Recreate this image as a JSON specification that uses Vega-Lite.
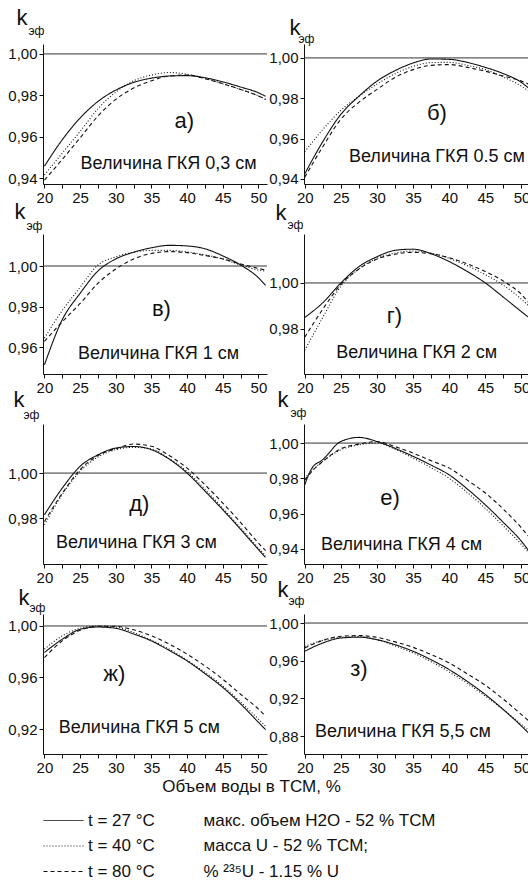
{
"$schema": "https://vega.github.io/schema/vega-lite/v6.json",
"padding": {"left": 7, "top": 6, "right": 0, "bottom": 0},
"config": {
  "font": "Liberation Sans",
  "view": {"stroke": null},
  "axis": {"grid": false, "domainColor": "#111", "tickColor": "#111", "tickSize": 4, "labelFontSize": 15, "labelColor": "#111", "labelPadding": 2, "labelFlush": false, "labelOverlap": false, "titleFont": "Liberation Sans", "titleColor": "#111", "titleFontWeight": "normal"},
  "axisTop": {"domain": false, "ticks": false, "labels": false, "titleFontSize": 22, "titleAlign": "left", "titleBaseline": "alphabetic", "titleAnchor": "start"},
  "text": {"color": "#111"}
},
"datasets": {"d": [
{"p":"а","x":20,"t27":0.9457,"t40":0.9415,"t80":0.939},
{"p":"а","x":22.5,"t27":0.9585,"t40":0.952,"t80":0.949},
{"p":"а","x":25,"t27":0.969,"t40":0.9625,"t80":0.9594},
{"p":"а","x":27.5,"t27":0.977,"t40":0.9735,"t80":0.970},
{"p":"а","x":30,"t27":0.9825,"t40":0.9815,"t80":0.978},
{"p":"а","x":32.5,"t27":0.9862,"t40":0.987,"t80":0.9835},
{"p":"а","x":35,"t27":0.9883,"t40":0.9898,"t80":0.987},
{"p":"а","x":37.5,"t27":0.9893,"t40":0.991,"t80":0.9893},
{"p":"а","x":40,"t27":0.9895,"t40":0.9902,"t80":0.9898},
{"p":"а","x":42.5,"t27":0.9885,"t40":0.9882,"t80":0.988},
{"p":"а","x":45,"t27":0.9865,"t40":0.9856,"t80":0.9856},
{"p":"а","x":47.5,"t27":0.984,"t40":0.9828,"t80":0.9828},
{"p":"а","x":50,"t27":0.9812,"t40":0.9797,"t80":0.9797},
{"p":"а","x":51,"t27":0.9795,"t40":0.978,"t80":0.978},
{"p":"б","x":20,"t27":0.9425,"t40":0.9535,"t80":0.9408},
{"p":"б","x":22.5,"t27":0.9585,"t40":0.9645,"t80":0.956},
{"p":"б","x":25,"t27":0.972,"t40":0.974,"t80":0.9696},
{"p":"б","x":27.5,"t27":0.981,"t40":0.981,"t80":0.978},
{"p":"б","x":30,"t27":0.9885,"t40":0.987,"t80":0.9844},
{"p":"б","x":32.5,"t27":0.9937,"t40":0.9922,"t80":0.9903},
{"p":"б","x":35,"t27":0.9975,"t40":0.9958,"t80":0.9942},
{"p":"б","x":37.5,"t27":0.9995,"t40":0.9977,"t80":0.9963},
{"p":"б","x":40,"t27":0.9993,"t40":0.9978,"t80":0.9967},
{"p":"б","x":42.5,"t27":0.9978,"t40":0.9963,"t80":0.9953},
{"p":"б","x":45,"t27":0.9953,"t40":0.9942,"t80":0.9934},
{"p":"б","x":47.5,"t27":0.9922,"t40":0.9905,"t80":0.991},
{"p":"б","x":50,"t27":0.9878,"t40":0.986,"t80":0.9885},
{"p":"б","x":51,"t27":0.985,"t40":0.9835,"t80":0.987},
{"p":"в","x":20,"t27":0.9512,"t40":0.9645,"t80":0.9628},
{"p":"в","x":22.5,"t27":0.9735,"t40":0.978,"t80":0.9725},
{"p":"в","x":25,"t27":0.9865,"t40":0.9895,"t80":0.9815},
{"p":"в","x":27.5,"t27":0.9975,"t40":1.0005,"t80":0.9915},
{"p":"в","x":30,"t27":1.0035,"t40":1.0045,"t80":0.9985},
{"p":"в","x":32.5,"t27":1.0068,"t40":1.0068,"t80":1.0035},
{"p":"в","x":35,"t27":1.009,"t40":1.0077,"t80":1.0062},
{"p":"в","x":37.5,"t27":1.0102,"t40":1.0077,"t80":1.0071},
{"p":"в","x":40,"t27":1.0099,"t40":1.007,"t80":1.0066},
{"p":"в","x":42.5,"t27":1.0085,"t40":1.0055,"t80":1.0052},
{"p":"в","x":45,"t27":1.005,"t40":1.0035,"t80":1.0035},
{"p":"в","x":47.5,"t27":1.0005,"t40":1.0005,"t80":1.001},
{"p":"в","x":50,"t27":0.9942,"t40":0.998,"t80":0.9988},
{"p":"в","x":51,"t27":0.9905,"t40":0.9975,"t80":0.998},
{"p":"г","x":20,"t27":0.985,"t40":0.9707,"t80":0.9764},
{"p":"г","x":22.5,"t27":0.9914,"t40":0.985,"t80":0.9886},
{"p":"г","x":25,"t27":1.0,"t40":0.9986,"t80":0.9993},
{"p":"г","x":27.5,"t27":1.0071,"t40":1.0061,"t80":1.0061},
{"p":"г","x":30,"t27":1.0114,"t40":1.0107,"t80":1.0104},
{"p":"г","x":32.5,"t27":1.0142,"t40":1.013,"t80":1.0125},
{"p":"г","x":35,"t27":1.0147,"t40":1.0139,"t80":1.0133},
{"p":"г","x":37.5,"t27":1.0127,"t40":1.013,"t80":1.0127},
{"p":"г","x":40,"t27":1.0093,"t40":1.0107,"t80":1.011},
{"p":"г","x":42.5,"t27":1.005,"t40":1.0075,"t80":1.0083},
{"p":"г","x":45,"t27":1.0,"t40":1.0036,"t80":1.005},
{"p":"г","x":47.5,"t27":0.9938,"t40":0.999,"t80":1.0008},
{"p":"г","x":50,"t27":0.9875,"t40":0.9929,"t80":0.995},
{"p":"г","x":51,"t27":0.985,"t40":0.990,"t80":0.9914},
{"p":"д","x":20,"t27":0.9815,"t40":0.977,"t80":0.9785},
{"p":"д","x":22.5,"t27":0.9933,"t40":0.9905,"t80":0.991},
{"p":"д","x":25,"t27":1.003,"t40":1.0007,"t80":1.0015},
{"p":"д","x":27.5,"t27":1.0081,"t40":1.0071,"t80":1.0078},
{"p":"д","x":30,"t27":1.0111,"t40":1.0104,"t80":1.0108},
{"p":"д","x":32.5,"t27":1.0118,"t40":1.0114,"t80":1.0129},
{"p":"д","x":35,"t27":1.0104,"t40":1.0107,"t80":1.0119},
{"p":"д","x":37.5,"t27":1.0062,"t40":1.0064,"t80":1.0078},
{"p":"д","x":40,"t27":1.0,"t40":1.0007,"t80":1.0022},
{"p":"д","x":42.5,"t27":0.992,"t40":0.9928,"t80":0.9948},
{"p":"д","x":45,"t27":0.9837,"t40":0.9844,"t80":0.9867},
{"p":"д","x":47.5,"t27":0.975,"t40":0.9757,"t80":0.978},
{"p":"д","x":50,"t27":0.966,"t40":0.9667,"t80":0.9689},
{"p":"д","x":51,"t27":0.9625,"t40":0.9632,"t80":0.9655},
{"p":"е","x":20,"t27":0.9764,"t40":0.980,"t80":0.979},
{"p":"е","x":21,"t27":0.9858,"t40":0.9845,"t80":0.984},
{"p":"е","x":22.5,"t27":0.9906,"t40":0.9896,"t80":0.9896},
{"p":"е","x":25,"t27":1.0009,"t40":0.9962,"t80":0.9968},
{"p":"е","x":27.5,"t27":1.0032,"t40":0.999,"t80":0.9994},
{"p":"е","x":30,"t27":1.0009,"t40":1.0,"t80":1.0009},
{"p":"е","x":32.5,"t27":0.997,"t40":0.9965,"t80":0.998},
{"p":"е","x":35,"t27":0.9925,"t40":0.9915,"t80":0.9943},
{"p":"е","x":37.5,"t27":0.9875,"t40":0.986,"t80":0.990},
{"p":"е","x":40,"t27":0.982,"t40":0.980,"t80":0.9858},
{"p":"е","x":42.5,"t27":0.974,"t40":0.972,"t80":0.979},
{"p":"е","x":45,"t27":0.965,"t40":0.963,"t80":0.9717},
{"p":"е","x":47.5,"t27":0.955,"t40":0.953,"t80":0.9625},
{"p":"е","x":50,"t27":0.9443,"t40":0.9425,"t80":0.9519},
{"p":"е","x":51,"t27":0.939,"t40":0.938,"t80":0.947},
{"p":"ж","x":20,"t27":0.9794,"t40":0.982,"t80":0.9755},
{"p":"ж","x":22.5,"t27":0.9897,"t40":0.9923,"t80":0.9884},
{"p":"ж","x":25,"t27":0.9974,"t40":0.9982,"t80":0.9966},
{"p":"ж","x":27.5,"t27":0.9992,"t40":1.0,"t80":0.9998},
{"p":"ж","x":30,"t27":0.9982,"t40":0.9992,"t80":0.9997},
{"p":"ж","x":32.5,"t27":0.9938,"t40":0.995,"t80":0.997},
{"p":"ж","x":35,"t27":0.9884,"t40":0.9889,"t80":0.9923},
{"p":"ж","x":37.5,"t27":0.981,"t40":0.982,"t80":0.986},
{"p":"ж","x":40,"t27":0.9729,"t40":0.9734,"t80":0.9781},
{"p":"ж","x":42.5,"t27":0.963,"t40":0.964,"t80":0.969},
{"p":"ж","x":45,"t27":0.9523,"t40":0.9535,"t80":0.9587},
{"p":"ж","x":47.5,"t27":0.9395,"t40":0.941,"t80":0.947},
{"p":"ж","x":50,"t27":0.9252,"t40":0.9277,"t80":0.9355},
{"p":"ж","x":51,"t27":0.9195,"t40":0.9222,"t80":0.930},
{"p":"з","x":20,"t27":0.970,"t40":0.9753,"t80":0.9735},
{"p":"з","x":22.5,"t27":0.9788,"t40":0.9816,"t80":0.9816},
{"p":"з","x":25,"t27":0.9841,"t40":0.9848,"t80":0.9859},
{"p":"з","x":27.5,"t27":0.985,"t40":0.9857,"t80":0.9867},
{"p":"з","x":30,"t27":0.9823,"t40":0.9823,"t80":0.9848},
{"p":"з","x":32.5,"t27":0.977,"t40":0.9758,"t80":0.980},
{"p":"з","x":35,"t27":0.970,"t40":0.9682,"t80":0.9742},
{"p":"з","x":37.5,"t27":0.961,"t40":0.959,"t80":0.9665},
{"p":"з","x":40,"t27":0.9505,"t40":0.948,"t80":0.9576},
{"p":"з","x":42.5,"t27":0.938,"t40":0.936,"t80":0.946},
{"p":"з","x":45,"t27":0.924,"t40":0.9223,"t80":0.9339},
{"p":"з","x":47.5,"t27":0.908,"t40":0.908,"t80":0.919},
{"p":"з","x":50,"t27":0.8905,"t40":0.8922,"t80":0.9028},
{"p":"з","x":51,"t27":0.883,"t40":0.886,"t80":0.896}
]},
"data": {"name": "d"},
"columns": 2,
"spacing": {"row": 50, "column": 37},
"bounds": "flush",
"resolve": {"scale": {"strokeDash": "independent"}, "legend": {"strokeDash": "independent"}},
"concat": [
 {"width": 224, "height": 140, "resolve": {"axis": {"x": "independent"}},
  "layer": [
   {"data": {"values": [{}]}, "mark": {"type": "rule", "color": "#333", "strokeWidth": 1}, "encoding": {"y": {"datum": 1}}},
   {"transform": [{"filter": "datum.p === 'а'"}, {"fold": ["t27","t40","t80"], "as": ["t","k"]}],
    "mark": {"type": "line", "color": "#111", "strokeWidth": 1.1, "interpolate": "monotone"},
    "encoding": {
     "x": {"field": "x", "type": "quantitative", "scale": {"domain": [19.8, 51.2], "nice": false, "zero": false}, "axis": {"values": [20,22.5,25,27.5,30,32.5,35,37.5,40,42.5,45,47.5,50], "labelExpr": "datum.value % 5 === 0 ? datum.label : ''", "title": null}},
     "y": {"field": "k", "type": "quantitative", "scale": {"domain": [0.9371, 1.0048], "nice": false, "zero": false}, "axis": {"values": [0.94,0.95,0.96,0.97,0.98,0.99,1.0], "labelOverlap": false, "labelExpr": "abs(datum.value*50 - round(datum.value*50)) < 0.01 ? replace(format(datum.value, '.2f'), '.', ',') : ''", "title": "эф", "titleAngle": 0, "titleX": -15, "titleY": -10, "titleAlign": "left", "titleBaseline": "alphabetic", "titleFontSize": 12}},
     "strokeDash": {"field": "t", "type": "nominal", "scale": {"domain": ["t27","t40","t80"], "range": [[1,0],[1,2],[4,3]]}, "legend": null}}},
   {"data": {"values": [{}]}, "mark": {"type": "text", "fontSize": 22}, "encoding": {"x": {"datum": 39.6, "axis": {"orient": "top", "title": "k", "titleX": -27, "titleY": -20}}, "y": {"datum": 0.9675}, "text": {"value": "а)"}}},
   {"data": {"values": [{}]}, "mark": {"type": "text", "fontSize": 18}, "encoding": {"x": {"datum": 37.4, "axis": null}, "y": {"datum": 0.9466}, "text": {"value": "Величина ГКЯ 0,3 см"}}}
  ]},
 {"width": 224, "height": 140, "resolve": {"axis": {"x": "independent"}},
  "layer": [
   {"data": {"values": [{}]}, "mark": {"type": "rule", "color": "#333", "strokeWidth": 1}, "encoding": {"y": {"datum": 1}}},
   {"transform": [{"filter": "datum.p === 'б'"}, {"fold": ["t27","t40","t80"], "as": ["t","k"]}],
    "mark": {"type": "line", "color": "#111", "strokeWidth": 1.1, "interpolate": "monotone"},
    "encoding": {
     "x": {"field": "x", "type": "quantitative", "scale": {"domain": [19.9, 50.9], "nice": false, "zero": false}, "axis": {"values": [20,22.5,25,27.5,30,32.5,35,37.5,40,42.5,45,47.5,50], "labelExpr": "datum.value % 5 === 0 ? datum.label : ''", "title": null}},
     "y": {"field": "k", "type": "quantitative", "scale": {"domain": [0.9375, 1.0069], "nice": false, "zero": false}, "axis": {"values": [0.94,0.95,0.96,0.97,0.98,0.99,1.0], "labelOverlap": false, "labelExpr": "abs(datum.value*50 - round(datum.value*50)) < 0.01 ? replace(format(datum.value, '.2f'), '.', ',') : ''", "title": "эф", "titleAngle": 0, "titleX": -6, "titleY": -2, "titleAlign": "left", "titleBaseline": "alphabetic", "titleFontSize": 12}},
     "strokeDash": {"field": "t", "type": "nominal", "scale": {"domain": ["t27","t40","t80"], "range": [[1,0],[1,2],[4,3]]}, "legend": null}}},
   {"data": {"values": [{}]}, "mark": {"type": "text", "fontSize": 22}, "encoding": {"x": {"datum": 38.3, "axis": {"orient": "top", "title": "k", "titleX": -15, "titleY": -10}}, "y": {"datum": 0.9729}, "text": {"value": "б)"}}},
   {"data": {"values": [{}]}, "mark": {"type": "text", "fontSize": 18}, "encoding": {"x": {"datum": 38.3, "axis": null}, "y": {"datum": 0.9507}, "text": {"value": "Величина ГКЯ 0.5 см"}}}
  ]},
 {"width": 224, "height": 140, "resolve": {"axis": {"x": "independent"}},
  "layer": [
   {"data": {"values": [{}]}, "mark": {"type": "rule", "color": "#333", "strokeWidth": 1}, "encoding": {"y": {"datum": 1}}},
   {"transform": [{"filter": "datum.p === 'в'"}, {"fold": ["t27","t40","t80"], "as": ["t","k"]}],
    "mark": {"type": "line", "color": "#111", "strokeWidth": 1.1, "interpolate": "monotone"},
    "encoding": {
     "x": {"field": "x", "type": "quantitative", "scale": {"domain": [19.8, 51.2], "nice": false, "zero": false}, "axis": {"values": [20,22.5,25,27.5,30,32.5,35,37.5,40,42.5,45,47.5,50], "labelExpr": "datum.value % 5 === 0 ? datum.label : ''", "title": null}},
     "y": {"field": "k", "type": "quantitative", "scale": {"domain": [0.9467, 1.0158], "nice": false, "zero": false}, "axis": {"values": [0.96,0.98,1.0], "labelOverlap": false, "labelExpr": "replace(format(datum.value, '.2f'), '.', ',')", "title": "эф", "titleAngle": 0, "titleX": -17, "titleY": -5, "titleAlign": "left", "titleBaseline": "alphabetic", "titleFontSize": 12}},
     "strokeDash": {"field": "t", "type": "nominal", "scale": {"domain": ["t27","t40","t80"], "range": [[1,0],[1,2],[4,3]]}, "legend": null}}},
   {"data": {"values": [{}]}, "mark": {"type": "text", "fontSize": 22}, "encoding": {"x": {"datum": 36.4, "axis": {"orient": "top", "title": "k", "titleX": -29, "titleY": -16}}, "y": {"datum": 0.9788}, "text": {"value": "в)"}}},
   {"data": {"values": [{}]}, "mark": {"type": "text", "fontSize": 18}, "encoding": {"x": {"datum": 36.0, "axis": null}, "y": {"datum": 0.9565}, "text": {"value": "Величина ГКЯ 1 см"}}}
  ]},
 {"width": 224, "height": 140, "resolve": {"axis": {"x": "independent"}},
  "layer": [
   {"data": {"values": [{}]}, "mark": {"type": "rule", "color": "#333", "strokeWidth": 1}, "encoding": {"y": {"datum": 1}}},
   {"transform": [{"filter": "datum.p === 'г'"}, {"fold": ["t27","t40","t80"], "as": ["t","k"]}],
    "mark": {"type": "line", "color": "#111", "strokeWidth": 1.1, "interpolate": "monotone"},
    "encoding": {
     "x": {"field": "x", "type": "quantitative", "scale": {"domain": [19.9, 50.9], "nice": false, "zero": false}, "axis": {"values": [20,22.5,25,27.5,30,32.5,35,37.5,40,42.5,45,47.5,50], "labelExpr": "datum.value % 5 === 0 ? datum.label : ''", "title": null}},
     "y": {"field": "k", "type": "quantitative", "scale": {"domain": [0.9604, 1.0213], "nice": false, "zero": false}, "axis": {"values": [0.98,1.0], "labelOverlap": false, "labelExpr": "replace(format(datum.value, '.2f'), '.', ',')", "title": "эф", "titleAngle": 0, "titleX": -17, "titleY": -6, "titleAlign": "left", "titleBaseline": "alphabetic", "titleFontSize": 12}},
     "strokeDash": {"field": "t", "type": "nominal", "scale": {"domain": ["t27","t40","t80"], "range": [[1,0],[1,2],[4,3]]}, "legend": null}}},
   {"data": {"values": [{}]}, "mark": {"type": "text", "fontSize": 22}, "encoding": {"x": {"datum": 32.4, "axis": {"orient": "top", "title": "k", "titleX": -29, "titleY": -15}}, "y": {"datum": 0.9857}, "text": {"value": "г)"}}},
   {"data": {"values": [{}]}, "mark": {"type": "text", "fontSize": 18}, "encoding": {"x": {"datum": 35.5, "axis": null}, "y": {"datum": 0.9696}, "text": {"value": "Величина ГКЯ 2 см"}}}
  ]},
 {"width": 224, "height": 140, "resolve": {"axis": {"x": "independent"}},
  "layer": [
   {"data": {"values": [{}]}, "mark": {"type": "rule", "color": "#333", "strokeWidth": 1}, "encoding": {"y": {"datum": 1}}},
   {"transform": [{"filter": "datum.p === 'д'"}, {"fold": ["t27","t40","t80"], "as": ["t","k"]}],
    "mark": {"type": "line", "color": "#111", "strokeWidth": 1.1, "interpolate": "monotone"},
    "encoding": {
     "x": {"field": "x", "type": "quantitative", "scale": {"domain": [19.8, 51.2], "nice": false, "zero": false}, "axis": {"values": [20,22.5,25,27.5,30,32.5,35,37.5,40,42.5,45,47.5,50], "labelExpr": "datum.value % 5 === 0 ? datum.label : ''", "title": null}},
     "y": {"field": "k", "type": "quantitative", "scale": {"domain": [0.9596, 1.0218], "nice": false, "zero": false}, "axis": {"values": [0.98,1.0], "labelOverlap": false, "labelExpr": "replace(format(datum.value, '.2f'), '.', ',')", "title": "эф", "titleAngle": 0, "titleX": -20, "titleY": -6, "titleAlign": "left", "titleBaseline": "alphabetic", "titleFontSize": 12}},
     "strokeDash": {"field": "t", "type": "nominal", "scale": {"domain": ["t27","t40","t80"], "range": [[1,0],[1,2],[4,3]]}, "legend": null}}},
   {"data": {"values": [{}]}, "mark": {"type": "text", "fontSize": 22}, "encoding": {"x": {"datum": 33.3, "axis": {"orient": "top", "title": "k", "titleX": -30, "titleY": -18}}, "y": {"datum": 0.9862}, "text": {"value": "д)"}}},
   {"data": {"values": [{}]}, "mark": {"type": "text", "fontSize": 18}, "encoding": {"x": {"datum": 32.9, "axis": null}, "y": {"datum": 0.9689}, "text": {"value": "Величина ГКЯ 3 см"}}}
  ]},
 {"width": 224, "height": 140, "resolve": {"axis": {"x": "independent"}},
  "layer": [
   {"data": {"values": [{}]}, "mark": {"type": "rule", "color": "#333", "strokeWidth": 1}, "encoding": {"y": {"datum": 1}}},
   {"transform": [{"filter": "datum.p === 'е'"}, {"fold": ["t27","t40","t80"], "as": ["t","k"]}],
    "mark": {"type": "line", "color": "#111", "strokeWidth": 1.1, "interpolate": "monotone"},
    "encoding": {
     "x": {"field": "x", "type": "quantitative", "scale": {"domain": [19.9, 50.9], "nice": false, "zero": false}, "axis": {"values": [20,22.5,25,27.5,30,32.5,35,37.5,40,42.5,45,47.5,50], "labelExpr": "datum.value % 5 === 0 ? datum.label : ''", "title": null}},
     "y": {"field": "k", "type": "quantitative", "scale": {"domain": [0.9315, 1.0108], "nice": false, "zero": false}, "axis": {"values": [0.94,0.95,0.96,0.97,0.98,0.99,1.0,1.01], "labelOverlap": false, "labelExpr": "abs(datum.value*50 - round(datum.value*50)) < 0.01 ? replace(format(datum.value, '.2f'), '.', ',') : ''", "title": "эф", "titleAngle": 0, "titleX": -14, "titleY": -8, "titleAlign": "left", "titleBaseline": "alphabetic", "titleFontSize": 12}},
     "strokeDash": {"field": "t", "type": "nominal", "scale": {"domain": ["t27","t40","t80"], "range": [[1,0],[1,2],[4,3]]}, "legend": null}}},
   {"data": {"values": [{}]}, "mark": {"type": "text", "fontSize": 22}, "encoding": {"x": {"datum": 31.8, "axis": {"orient": "top", "title": "k", "titleX": -27, "titleY": -18}}, "y": {"datum": 0.9688}, "text": {"value": "е)"}}},
   {"data": {"values": [{}]}, "mark": {"type": "text", "fontSize": 18}, "encoding": {"x": {"datum": 33.4, "axis": null}, "y": {"datum": 0.9422}, "text": {"value": "Величина ГКЯ 4 см"}}}
  ]},
 {"width": 224, "height": 140, "resolve": {"axis": {"x": "independent"}},
  "layer": [
   {"data": {"values": [{}]}, "mark": {"type": "rule", "color": "#333", "strokeWidth": 1}, "encoding": {"y": {"datum": 1}}},
   {"transform": [{"filter": "datum.p === 'ж'"}, {"fold": ["t27","t40","t80"], "as": ["t","k"]}],
    "mark": {"type": "line", "color": "#111", "strokeWidth": 1.1, "interpolate": "monotone"},
    "encoding": {
     "x": {"field": "x", "type": "quantitative", "scale": {"domain": [19.8, 51.2], "nice": false, "zero": false}, "axis": {"values": [20,22.5,25,27.5,30,32.5,35,37.5,40,42.5,45,47.5,50], "labelExpr": "datum.value % 5 === 0 ? datum.label : ''", "title": "Объем  воды в ТСМ, %", "titleX": 208, "titleY": 37, "titleAlign": "center", "titleBaseline": "alphabetic", "titleFontSize": 17}},
     "y": {"field": "k", "type": "quantitative", "scale": {"domain": [0.9006, 1.0093], "nice": false, "zero": false}, "axis": {"values": [0.92,0.94,0.96,0.98,1.0], "labelOverlap": false, "labelExpr": "abs(datum.value*25 - round(datum.value*25)) < 0.01 ? replace(format(datum.value, '.2f'), '.', ',') : ''", "title": "эф", "titleAngle": 0, "titleX": -14, "titleY": -3, "titleAlign": "left", "titleBaseline": "alphabetic", "titleFontSize": 12}},
     "strokeDash": {"field": "t", "type": "nominal", "scale": {"domain": ["t27","t40","t80"], "range": [[1,0],[1,2],[4,3]]},
      "legend": {"orient": "none", "legendX": 10, "legendY": 196, "title": null, "symbolType": "M-2,0H2", "symbolSize": 400, "symbolFillColor": "transparent", "symbolStrokeColor": "#111", "symbolStrokeWidth": 1, "labelFontSize": 17, "labelColor": "#111", "labelOffset": 14, "rowPadding": 6.5, "labelExpr": "{'t27': 't = 27 °C', 't40': 't = 40 °C', 't80': 't = 80 °C'}[datum.label]"}}}},
   {"data": {"values": [{}]}, "mark": {"type": "text", "fontSize": 22}, "encoding": {"x": {"datum": 29.8, "axis": {"orient": "top", "title": "k", "titleX": -25, "titleY": -10}}, "y": {"datum": 0.9628}, "text": {"value": "ж)"}}},
   {"data": {"values": [{}]}, "mark": {"type": "text", "fontSize": 18}, "encoding": {"x": {"datum": 33.3, "axis": null}, "y": {"datum": 0.921}, "text": {"value": "Величина ГКЯ 5 см"}}}
  ]},
 {"width": 224, "height": 140, "resolve": {"axis": {"x": "independent"}},
  "layer": [
   {"data": {"values": [{}]}, "mark": {"type": "rule", "color": "#333", "strokeWidth": 1}, "encoding": {"y": {"datum": 1}}},
   {"transform": [{"filter": "datum.p === 'з'"}, {"fold": ["t27","t40","t80"], "as": ["t","k"]}],
    "mark": {"type": "line", "color": "#111", "strokeWidth": 1.1, "interpolate": "monotone"},
    "encoding": {
     "x": {"field": "x", "type": "quantitative", "scale": {"domain": [19.9, 50.9], "nice": false, "zero": false}, "axis": {"values": [20,22.5,25,27.5,30,32.5,35,37.5,40,42.5,45,47.5,50], "labelExpr": "datum.value % 5 === 0 ? datum.label : ''", "title": ["макс. объем H2O - 52 % ТСМ", "масса U - 52 % ТСМ;", "% ²³⁵U - 1.15 % U"], "titleX": -101, "titleY": 71, "titleAlign": "left", "titleAnchor": "start", "titleBaseline": "alphabetic", "titleFontSize": 17, "titleLineHeight": 25.5}},
     "y": {"field": "k", "type": "quantitative", "scale": {"domain": [0.8609, 1.0096], "nice": false, "zero": false}, "axis": {"values": [0.88,0.90,0.92,0.94,0.96,0.98,1.0], "labelOverlap": false, "labelExpr": "abs(datum.value*25 - round(datum.value*25)) < 0.01 ? replace(format(datum.value, '.2f'), '.', ',') : ''", "title": "эф", "titleAngle": 0, "titleX": -16, "titleY": -10, "titleAlign": "left", "titleBaseline": "alphabetic", "titleFontSize": 12}},
     "strokeDash": {"field": "t", "type": "nominal", "scale": {"domain": ["t27","t40","t80"], "range": [[1,0],[1,2],[4,3]]}, "legend": null}}},
   {"data": {"values": [{}]}, "mark": {"type": "text", "fontSize": 22}, "encoding": {"x": {"datum": 27.5, "axis": {"orient": "top", "title": "k", "titleX": -27, "titleY": -18}}, "y": {"datum": 0.951}, "text": {"value": "з)"}}},
   {"data": {"values": [{}]}, "mark": {"type": "text", "fontSize": 18}, "encoding": {"x": {"datum": 33.6, "axis": null}, "y": {"datum": 0.8844}, "text": {"value": "Величина ГКЯ 5,5 см"}}}
  ]}
]
}
